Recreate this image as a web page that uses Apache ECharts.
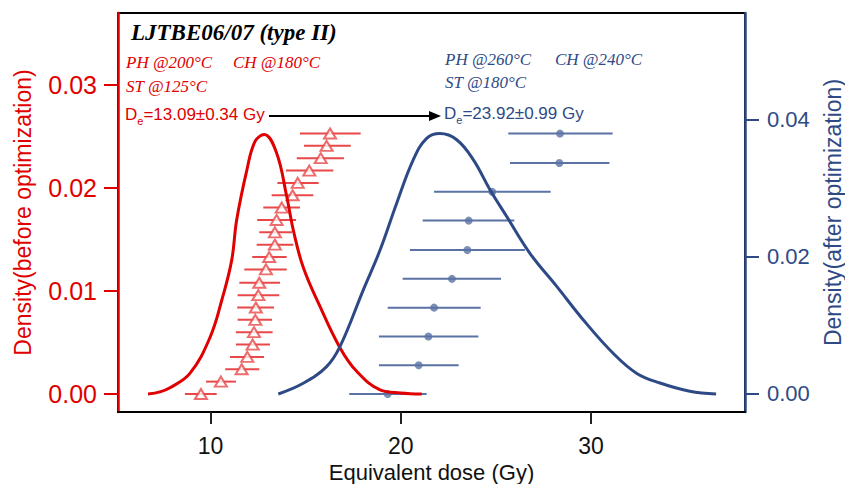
<!DOCTYPE html>
<html>
<head>
<meta charset="utf-8">
<script src="https://cdn.jsdelivr.net/npm/echarts@6.0.0/dist/echarts.min.js"></script>
<style>
    body { margin: 0; background: #fff; }
    #chart { width: 845px; height: 484px; }
</style>
</head>
<body>
<div id="chart"></div>
<script>
// tick labels
var xTicks = [10, 20, 30];
var leftTicks = [0, 0.01, 0.02, 0.03];
var rightTicks = [0, 0.02, 0.04];

// density curve before optimization (left axis)
var redCurveDose = [6.71, 7.34, 7.86, 8.91, 9.97, 10.6, 11.11, 11.37, 11.9, 12.33, 12.82, 13.47, 14.0, 14.35, 14.87, 15.75, 16.8, 17.68, 18.91, 20.0, 21.1];
var redCurveDensity = [0, 0.0002, 0.0006, 0.002, 0.0055, 0.0092, 0.013, 0.0169, 0.0217, 0.0245, 0.0252, 0.0234, 0.0192, 0.0159, 0.0123, 0.0085, 0.0045, 0.0022, 0.0004, 0.0001, 0];

// density curve after optimization (right axis)
var blueCurveDose = [13.56, 14.87, 16.1, 16.8, 18.03, 18.91, 19.78, 20.66, 21.36, 22.06, 22.94, 23.81, 24.69, 25.57, 26.8, 28.2, 29.6, 31.18, 32.41, 33.63, 35.2, 36.58];
var blueCurveDensity = [0, 0.00156, 0.004, 0.0069, 0.0152, 0.021, 0.0278, 0.0342, 0.0373, 0.038, 0.0371, 0.0342, 0.0298, 0.0259, 0.0205, 0.0157, 0.0108, 0.0059, 0.003, 0.0016, 0.0004, 0];

// single aliquot De with error bars, before optimization
var redDe = [16.28, 16.10, 15.79, 15.19, 14.58, 14.31, 13.74, 13.47, 13.38, 13.38, 13.08, 12.91, 12.56, 12.51, 12.38, 12.35, 12.28, 12.21, 11.93, 11.63, 10.54, 9.49];
var redLo = [14.70, 14.91, 14.53, 13.96, 13.51, 13.21, 12.77, 12.45, 12.56, 12.42, 12.19, 11.77, 11.51, 11.42, 11.40, 11.42, 11.33, 11.33, 11.02, 10.77, 9.76, 8.65];
var redHi = [17.89, 17.37, 17.01, 16.45, 15.68, 15.40, 14.70, 14.49, 14.28, 14.35, 14.00, 14.00, 13.65, 13.61, 13.33, 13.23, 13.26, 13.12, 12.81, 12.56, 11.33, 10.32];
var redRow = [0.0253, 0.0241, 0.0229, 0.0217, 0.0205, 0.0193, 0.0181, 0.0169, 0.0157, 0.0145, 0.0133, 0.0121, 0.0108, 0.0096, 0.0084, 0.0072, 0.006, 0.0048, 0.0036, 0.0024, 0.0012, 0];

// after optimization
var blueDe = [28.37, 28.34, 24.81, 23.57, 23.50, 22.69, 21.75, 21.45, 20.94, 19.31];
var blueLo = [25.65, 25.74, 21.75, 21.15, 20.48, 20.10, 19.31, 18.85, 18.85, 17.29];
var blueHi = [31.14, 30.97, 27.88, 25.97, 26.53, 25.27, 24.20, 24.08, 23.04, 21.36];
var blueRow = [0.038, 0.0337, 0.0295, 0.0253, 0.021, 0.0168, 0.0126, 0.0084, 0.0042, 0];

var RED = '#e00000';
var RED_LIGHT = '#e8484a';
var BLUE = '#2e4a86';
var BLUE_LIGHT = '#5a72a4';
var SANS = '"Liberation Sans", Arial, sans-serif';
var SERIF = '"Liberation Serif", "Times New Roman", serif';

function zip(a, b) {
    return a.map(function (v, i) { return [v, b[i]]; });
}
function bars(lo, hi, row) {
    return lo.map(function (v, i) { return [v, hi[i], row[i]]; });
}
function errorBar(color) {
    return function (params, api) {
        var p1 = api.coord([api.value(0), api.value(2)]);
        var p2 = api.coord([api.value(1), api.value(2)]);
        return {
            type: 'line',
            shape: {x1: p1[0], y1: p1[1], x2: p2[0], y2: p2[1]},
            style: {stroke: color, lineWidth: 2}
        };
    };
}

var chart = echarts.init(document.querySelector('#chart'), null, {renderer: 'svg'});
var option = {
    backgroundColor: '#fff',
    animation: false,
    grid: {
        left: 118, right: 100, top: 13, bottom: 72,
        outerBoundsMode: 'none',
        containLabel: false,
        show: true, borderColor: '#000', borderWidth: 2
    },
    xAxis: {
        type: 'value',
        min: 5.13,
        max: 38.1,
        name: 'Equivalent dose (Gy)',
        nameLocation: 'middle',
        nameGap: 44,
        nameTextStyle: {fontSize: 22, color: '#111', fontFamily: SANS},
        axisLine: {onZero: false, lineStyle: {color: '#000', width: 2}},
        axisTick: {customValues: xTicks, length: 12, lineStyle: {color: '#222', width: 2}},
        axisLabel: {customValues: xTicks, fontSize: 23, color: '#111', fontFamily: SANS, margin: 22},
        splitLine: {show: false}
    },
    yAxis: [
        {
            type: 'value',
            position: 'left',
            min: -0.00175,
            max: 0.037,
            name: 'Density(before optimization)',
            nameLocation: 'middle',
            nameRotate: 90,
            nameGap: 84,
            nameTextStyle: {fontSize: 23, color: RED, fontFamily: SANS},
            axisLine: {show: true, onZero: false, lineStyle: {color: RED, width: 2.5}},
            axisTick: {show: true, customValues: leftTicks, length: 14, lineStyle: {color: RED, width: 2}},
            axisLabel: {
                customValues: leftTicks, fontSize: 25, color: RED, fontFamily: SANS, margin: 21,
                formatter: function (v) { return v.toFixed(2); }
            },
            splitLine: {show: false}
        },
        {
            type: 'value',
            position: 'right',
            min: -0.00263,
            max: 0.0556,
            name: 'Density(after optimization)',
            nameLocation: 'middle',
            nameRotate: 90,
            nameGap: 76,
            nameTextStyle: {fontSize: 23, color: BLUE, fontFamily: SANS},
            axisLine: {show: true, onZero: false, lineStyle: {color: BLUE, width: 2.5}},
            axisTick: {show: true, customValues: rightTicks, length: 14, lineStyle: {color: BLUE, width: 2}},
            axisLabel: {
                customValues: rightTicks, fontSize: 22, color: BLUE, fontFamily: SANS, margin: 22,
                formatter: function (v) { return v.toFixed(2); }
            },
            splitLine: {show: false}
        }
    ],
    series: [
        {
            name: 'before bars',
            type: 'custom',
            yAxisIndex: 0,
            renderItem: errorBar(RED_LIGHT),
            encode: {x: [0, 1], y: 2},
            data: bars(redLo, redHi, redRow),
            z: 2
        },
        {
            name: 'before De',
            type: 'scatter',
            yAxisIndex: 0,
            symbol: 'triangle',
            symbolSize: [12, 10],
            itemStyle: {color: '#fff', borderColor: RED_LIGHT, borderWidth: 2},
            data: zip(redDe, redRow),
            z: 3
        },
        {
            name: 'after bars',
            type: 'custom',
            yAxisIndex: 1,
            renderItem: errorBar(BLUE_LIGHT),
            encode: {x: [0, 1], y: 2},
            data: bars(blueLo, blueHi, blueRow),
            z: 2
        },
        {
            name: 'after De',
            type: 'scatter',
            yAxisIndex: 1,
            symbol: 'circle',
            symbolSize: 8,
            itemStyle: {color: BLUE_LIGHT},
            data: zip(blueDe, blueRow),
            z: 3
        },
        {
            name: 'before KDE',
            type: 'line',
            yAxisIndex: 0,
            smooth: 0.4,
            showSymbol: false,
            lineStyle: {color: RED, width: 3},
            data: zip(redCurveDose, redCurveDensity),
            z: 4
        },
        {
            name: 'after KDE',
            type: 'line',
            yAxisIndex: 1,
            smooth: 0.4,
            showSymbol: false,
            lineStyle: {color: BLUE, width: 3},
            data: zip(blueCurveDose, blueCurveDensity),
            z: 4
        }
    ],
    graphic: [
        {type: 'text', left: 131, top: 21, style: {text: 'LJTBE06/07 (type II)', fontSize: 23, fontStyle: 'italic', fontWeight: 'bold', fontFamily: SERIF, fill: '#000'}},
        {type: 'text', left: 126, top: 54, style: {text: 'PH @200°C', fontSize: 17, fontStyle: 'italic', fontFamily: SERIF, fill: RED}},
        {type: 'text', left: 233, top: 54, style: {text: 'CH @180°C', fontSize: 17, fontStyle: 'italic', fontFamily: SERIF, fill: RED}},
        {type: 'text', left: 126, top: 78, style: {text: 'ST @125°C', fontSize: 17, fontStyle: 'italic', fontFamily: SERIF, fill: RED}},
        {type: 'text', left: 445, top: 51, style: {text: 'PH @260°C', fontSize: 17, fontStyle: 'italic', fontFamily: SERIF, fill: BLUE}},
        {type: 'text', left: 555, top: 51, style: {text: 'CH @240°C', fontSize: 17, fontStyle: 'italic', fontFamily: SERIF, fill: BLUE}},
        {type: 'text', left: 445, top: 74, style: {text: 'ST @180°C', fontSize: 17, fontStyle: 'italic', fontFamily: SERIF, fill: BLUE}},
        {
            type: 'text', left: 125, top: 106,
            style: {
                text: '{a|D}{b|e}{a|=13.09±0.34 Gy}',
                rich: {
                    a: {fontSize: 17, fontFamily: SANS, fill: RED},
                    b: {fontSize: 11, fontFamily: SANS, fill: RED, padding: [12, 0, 0, 0]}
                }
            }
        },
        {
            type: 'text', left: 444, top: 105,
            style: {
                text: '{a|D}{b|e}{a|=23.92±0.99 Gy}',
                rich: {
                    a: {fontSize: 17, fontFamily: SANS, fill: BLUE},
                    b: {fontSize: 11, fontFamily: SANS, fill: BLUE, padding: [12, 0, 0, 0]}
                }
            }
        },
        {type: 'line', shape: {x1: 269, y1: 116, x2: 431, y2: 116}, style: {stroke: '#000', lineWidth: 2}},
        {type: 'polygon', shape: {points: [[429, 111], [441, 116], [429, 121]]}, style: {fill: '#000'}}
    ]
};
chart.setOption(option);
</script>
</body>
</html>
